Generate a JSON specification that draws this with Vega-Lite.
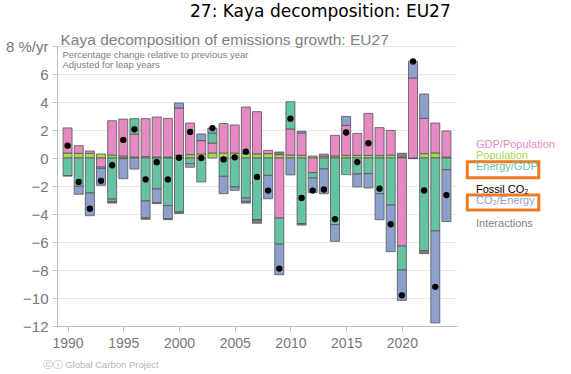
{
  "$schema": "https://vega.github.io/schema/vega-lite/v6.json",
  "width": 400,
  "height": 280,
  "autosize": {"type": "none"},
  "padding": {"left": 57, "top": 46, "right": 114, "bottom": 48},
  "background": "white",
  "config": {"view": {"stroke": null}, "font": "Liberation Sans"},
  "title": {"text": "27: Kaya decomposition: EU27", "anchor": "start", "frame": "group", "dx": 133, "offset": 11, "font": "DejaVu Sans", "fontSize": 17, "fontWeight": "normal", "color": "#000000"},
  "datasets": {
    "kaya": [
      {"year":1990,"series":"Population","value":0.35},{"year":1991,"series":"Population","value":0.33},{"year":1992,"series":"Population","value":0.33},{"year":1993,"series":"Population","value":0.29},{"year":1994,"series":"Population","value":0.21},{"year":1995,"series":"Population","value":0.14},{"year":1996,"series":"Population","value":0.07},{"year":1997,"series":"Population","value":0.1},{"year":1998,"series":"Population","value":0.07},{"year":1999,"series":"Population","value":0.07},{"year":2000,"series":"Population","value":0.19},{"year":2001,"series":"Population","value":0.24},{"year":2002,"series":"Population","value":0.29},{"year":2003,"series":"Population","value":0.36},{"year":2004,"series":"Population","value":0.36},{"year":2005,"series":"Population","value":0.36},{"year":2006,"series":"Population","value":0.31},{"year":2007,"series":"Population","value":0.29},{"year":2008,"series":"Population","value":0.31},{"year":2009,"series":"Population","value":0.24},{"year":2010,"series":"Population","value":0.21},{"year":2011,"series":"Population","value":0.19},{"year":2012,"series":"Population","value":0.14},{"year":2013,"series":"Population","value":0.14},{"year":2014,"series":"Population","value":0.14},{"year":2015,"series":"Population","value":0.19},{"year":2016,"series":"Population","value":0.19},{"year":2017,"series":"Population","value":0.19},{"year":2018,"series":"Population","value":0.17},{"year":2019,"series":"Population","value":0.21},{"year":2020,"series":"Population","value":0.05},{"year":2021,"series":"Population","value":-0.03},{"year":2022,"series":"Population","value":0.31},{"year":2023,"series":"Population","value":0.36},{"year":2024,"series":"Population","value":0.07},
      {"year":1990,"series":"GDP/Population","value":1.8},{"year":1991,"series":"GDP/Population","value":0.55},{"year":1992,"series":"GDP/Population","value":0.17},{"year":1993,"series":"GDP/Population","value":-0.64},{"year":1994,"series":"GDP/Population","value":2.45},{"year":1995,"series":"GDP/Population","value":2.64},{"year":1996,"series":"GDP/Population","value":1.64},{"year":1997,"series":"GDP/Population","value":2.71},{"year":1998,"series":"GDP/Population","value":2.86},{"year":1999,"series":"GDP/Population","value":2.76},{"year":2000,"series":"GDP/Population","value":3.38},{"year":2001,"series":"GDP/Population","value":2.26},{"year":2002,"series":"GDP/Population","value":0.95},{"year":2003,"series":"GDP/Population","value":0.71},{"year":2004,"series":"GDP/Population","value":2.1},{"year":2005,"series":"GDP/Population","value":2.0},{"year":2006,"series":"GDP/Population","value":3.33},{"year":2007,"series":"GDP/Population","value":3.02},{"year":2008,"series":"GDP/Population","value":0.24},{"year":2009,"series":"GDP/Population","value":-4.29},{"year":2010,"series":"GDP/Population","value":1.86},{"year":2011,"series":"GDP/Population","value":1.6},{"year":2012,"series":"GDP/Population","value":-1.05},{"year":2013,"series":"GDP/Population","value":0.14},{"year":2014,"series":"GDP/Population","value":1.48},{"year":2015,"series":"GDP/Population","value":2.14},{"year":2016,"series":"GDP/Population","value":1.57},{"year":2017,"series":"GDP/Population","value":3.0},{"year":2018,"series":"GDP/Population","value":2.0},{"year":2019,"series":"GDP/Population","value":1.76},{"year":2020,"series":"GDP/Population","value":-6.29},{"year":2021,"series":"GDP/Population","value":5.71},{"year":2022,"series":"GDP/Population","value":2.52},{"year":2023,"series":"GDP/Population","value":2.14},{"year":2024,"series":"GDP/Population","value":1.86},
      {"year":1990,"series":"Energy/GDP","value":-1.26},{"year":1991,"series":"Energy/GDP","value":-2.02},{"year":1992,"series":"Energy/GDP","value":-2.5},{"year":1993,"series":"Energy/GDP","value":-0.1},{"year":1994,"series":"Energy/GDP","value":-2.93},{"year":1995,"series":"Energy/GDP","value":-0.05},{"year":1996,"series":"Energy/GDP","value":1.1},{"year":1997,"series":"Energy/GDP","value":-3.07},{"year":1998,"series":"Energy/GDP","value":-2.21},{"year":1999,"series":"Energy/GDP","value":-3.4},{"year":2000,"series":"Energy/GDP","value":-3.86},{"year":2001,"series":"Energy/GDP","value":-0.4},{"year":2002,"series":"Energy/GDP","value":-1.71},{"year":2003,"series":"Energy/GDP","value":0.71},{"year":2004,"series":"Energy/GDP","value":-1.31},{"year":2005,"series":"Energy/GDP","value":-2.07},{"year":2006,"series":"Energy/GDP","value":-2.86},{"year":2007,"series":"Energy/GDP","value":-4.4},{"year":2008,"series":"Energy/GDP","value":-1.24},{"year":2009,"series":"Energy/GDP","value":-1.86},{"year":2010,"series":"Energy/GDP","value":1.95},{"year":2011,"series":"Energy/GDP","value":-4.69},{"year":2012,"series":"Energy/GDP","value":-0.38},{"year":2013,"series":"Energy/GDP","value":-0.79},{"year":2014,"series":"Energy/GDP","value":-4.76},{"year":2015,"series":"Energy/GDP","value":-1.19},{"year":2016,"series":"Energy/GDP","value":-1.14},{"year":2017,"series":"Energy/GDP","value":-1.12},{"year":2018,"series":"Energy/GDP","value":-2.55},{"year":2019,"series":"Energy/GDP","value":-3.36},{"year":2020,"series":"Energy/GDP","value":-1.71},{"year":2021,"series":"Energy/GDP","value":-0.02},{"year":2022,"series":"Energy/GDP","value":-6.62},{"year":2023,"series":"Energy/GDP","value":-5.21},{"year":2024,"series":"Energy/GDP","value":-0.83},
      {"year":1990,"series":"CO₂/Energy","value":-0.03},{"year":1991,"series":"CO₂/Energy","value":-0.57},{"year":1992,"series":"CO₂/Energy","value":-1.62},{"year":1993,"series":"CO₂/Energy","value":-1.21},{"year":1994,"series":"CO₂/Energy","value":-0.19},{"year":1995,"series":"CO₂/Energy","value":-1.43},{"year":1996,"series":"CO₂/Energy","value":-0.79},{"year":1997,"series":"CO₂/Energy","value":-1.21},{"year":1998,"series":"CO₂/Energy","value":-0.98},{"year":1999,"series":"CO₂/Energy","value":-0.93},{"year":2000,"series":"CO₂/Energy","value":0.36},{"year":2001,"series":"CO₂/Energy","value":-0.26},{"year":2002,"series":"CO₂/Energy","value":0.48},{"year":2003,"series":"CO₂/Energy","value":0.36},{"year":2004,"series":"CO₂/Energy","value":-1.24},{"year":2005,"series":"CO₂/Energy","value":-0.24},{"year":2006,"series":"CO₂/Energy","value":-0.24},{"year":2007,"series":"CO₂/Energy","value":-0.02},{"year":2008,"series":"CO₂/Energy","value":-1.67},{"year":2009,"series":"CO₂/Energy","value":-2.19},{"year":2010,"series":"CO₂/Energy","value":-1.21},{"year":2011,"series":"CO₂/Energy","value":0.12},{"year":2012,"series":"CO₂/Energy","value":-1.04},{"year":2013,"series":"CO₂/Energy","value":-1.76},{"year":2014,"series":"CO₂/Energy","value":-1.19},{"year":2015,"series":"CO₂/Energy","value":0.64},{"year":2016,"series":"CO₂/Energy","value":-0.93},{"year":2017,"series":"CO₂/Energy","value":-1.02},{"year":2018,"series":"CO₂/Energy","value":-1.86},{"year":2019,"series":"CO₂/Energy","value":-3.33},{"year":2020,"series":"CO₂/Energy","value":-2.17},{"year":2021,"series":"CO₂/Energy","value":1.19},{"year":2022,"series":"CO₂/Energy","value":1.74},{"year":2023,"series":"CO₂/Energy","value":-6.57},{"year":2024,"series":"CO₂/Energy","value":-3.71},
      {"year":1994,"series":"Interactions","value":-0.1},{"year":1997,"series":"Interactions","value":-0.1},{"year":1998,"series":"Interactions","value":-0.07},{"year":1999,"series":"Interactions","value":-0.07},{"year":2000,"series":"Interactions","value":-0.1},{"year":2006,"series":"Interactions","value":-0.12},{"year":2007,"series":"Interactions","value":-0.24},{"year":2009,"series":"Interactions","value":0.19},{"year":2011,"series":"Interactions","value":-0.1},{"year":2020,"series":"Interactions","value":0.29},{"year":2022,"series":"Interactions","value":-0.21}
    ],
    "co2": [
      {"year":1990,"series":"Fossil CO₂","value":0.88},{"year":1991,"series":"Fossil CO₂","value":-1.71},{"year":1992,"series":"Fossil CO₂","value":-3.62},{"year":1993,"series":"Fossil CO₂","value":-1.63},{"year":1994,"series":"Fossil CO₂","value":-0.52},{"year":1995,"series":"Fossil CO₂","value":1.29},{"year":1996,"series":"Fossil CO₂","value":2.05},{"year":1997,"series":"Fossil CO₂","value":-1.53},{"year":1998,"series":"Fossil CO₂","value":-0.3},{"year":1999,"series":"Fossil CO₂","value":-1.53},{"year":2000,"series":"Fossil CO₂","value":0.02},{"year":2001,"series":"Fossil CO₂","value":1.86},{"year":2002,"series":"Fossil CO₂","value":0.0},{"year":2003,"series":"Fossil CO₂","value":2.14},{"year":2004,"series":"Fossil CO₂","value":-0.1},{"year":2005,"series":"Fossil CO₂","value":0.05},{"year":2006,"series":"Fossil CO₂","value":0.45},{"year":2007,"series":"Fossil CO₂","value":-1.35},{"year":2008,"series":"Fossil CO₂","value":-2.33},{"year":2009,"series":"Fossil CO₂","value":-7.9},{"year":2010,"series":"Fossil CO₂","value":2.81},{"year":2011,"series":"Fossil CO₂","value":-2.85},{"year":2012,"series":"Fossil CO₂","value":-2.33},{"year":2013,"series":"Fossil CO₂","value":-2.25},{"year":2014,"series":"Fossil CO₂","value":-4.36},{"year":2015,"series":"Fossil CO₂","value":1.82},{"year":2016,"series":"Fossil CO₂","value":-0.29},{"year":2017,"series":"Fossil CO₂","value":1.06},{"year":2018,"series":"Fossil CO₂","value":-2.19},{"year":2019,"series":"Fossil CO₂","value":-4.73},{"year":2020,"series":"Fossil CO₂","value":-9.81},{"year":2021,"series":"Fossil CO₂","value":6.9},{"year":2022,"series":"Fossil CO₂","value":-2.32},{"year":2023,"series":"Fossil CO₂","value":-9.2},{"year":2024,"series":"Fossil CO₂","value":-2.65}
    ]
  },
  "layer": [
    {
      "data": {"name": "kaya"},
      "transform": [{"calculate": "indexof(['Population','GDP/Population','Energy/GDP','CO₂/Energy','Interactions'], datum.series)", "as": "k"}],
      "mark": {"type": "bar", "size": 9, "stroke": "#555555", "strokeWidth": 0.8},
      "encoding": {
        "x": {"field": "year", "type": "quantitative", "scale": {"domain": [1989.5, 2024.5], "nice": false, "zero": false},
          "axis": {"values": [1990,1995,2000,2005,2010,2015,2020], "format": "d", "grid": false, "labelFontSize": 14, "labelColor": "#777777", "tickColor": "#bfbfbf", "domainColor": "#bfbfbf", "tickSize": 5, "labelPadding": 5, "labelFlush": false,
            "title": "ⓒⓘ Global Carbon Project", "titleAnchor": "start", "titleAlign": "left", "titleBaseline": "alphabetic", "titleX": -15, "titleY": 41, "titleFontSize": 9.5, "titleColor": "#b5b5b5", "titleFontWeight": "normal"}},
        "y": {"field": "value", "type": "quantitative", "stack": "zero", "scale": {"domain": [-12, 8], "nice": false},
          "axis": {"values": [-12,-10,-8,-6,-4,-2,0,2,4,6,8], "labelExpr": "datum.value == 8 ? '8 %/yr' : datum.label", "labelFontSize": 15, "labelColor": "#777777", "tickColor": "#bfbfbf", "tickSize": 5, "labelPadding": 4, "domainColor": "#bfbfbf", "gridColor": "#e8e8e8",
            "title": "Kaya decomposition of emissions growth: EU27", "titleAngle": 0, "titleAlign": "left", "titleBaseline": "alphabetic", "titleX": 3, "titleY": -2, "titleFontSize": 15.5, "titleFontWeight": "normal", "titleColor": "#808080"}},
        "color": {"field": "series", "type": "nominal",
          "scale": {"domain": ["GDP/Population","Population","Energy/GDP"," ","Fossil CO₂","CO₂/Energy","  ","Interactions"], "range": ["#e78ac3","#a6d854","#66c2a5","#ffffff","#000000","#8da0cb","#ffffff","#808080"]},
          "legend": {"orient": "none", "legendX": 404, "legendY": 93, "title": null, "padding": 0, "symbolSize": 0, "symbolOpacity": 0, "symbolStrokeWidth": 0, "labelFontSize": 11, "labelFont": "Liberation Sans", "labelOffset": 4, "rowPadding": -0.7, "labelLimit": 200,
            "labelColor": {"expr": "scale('color', datum.value)"}}},
        "order": {"field": "k", "type": "quantitative", "sort": "ascending"}
      }
    },
    {
      "data": {"name": "co2"},
      "mark": {"type": "point", "filled": true, "size": 40, "opacity": 1},
      "encoding": {
        "x": {"field": "year", "type": "quantitative"},
        "y": {"field": "value", "type": "quantitative",
          "axis": {"orient": "right", "labels": false, "ticks": false, "domain": false, "grid": false,
            "title": ["Percentage change relative to previous year", "Adjusted for leap years"], "titleAngle": 0, "titleAlign": "left", "titleBaseline": "top", "titleX": -395, "titleY": 3, "titleFontSize": 9.5, "titleLineHeight": 10, "titleColor": "#808080", "titleFontWeight": "normal"}},
        "color": {"field": "series", "type": "nominal"}
      }
    },
    {
      "data": {"values": [{}]},
      "mark": {"type": "rect", "filled": false, "stroke": "#f07a22", "strokeWidth": 3},
      "encoding": {
        "x": {"datum": 2025.87, "type": "quantitative"},
        "x2": {"datum": 2032.29},
        "y": {"datum": -0.26, "type": "quantitative", "axis": null},
        "y2": {"datum": -1.41}
      }
    },
    {
      "data": {"values": [{}]},
      "mark": {"type": "rect", "filled": false, "stroke": "#f07a22", "strokeWidth": 3},
      "encoding": {
        "x": {"datum": 2025.87, "type": "quantitative"},
        "x2": {"datum": 2032.29},
        "y": {"datum": -2.64, "type": "quantitative", "axis": null},
        "y2": {"datum": -3.71}
      }
    }
  ],
  "resolve": {"axis": {"y": "independent"}}
}
